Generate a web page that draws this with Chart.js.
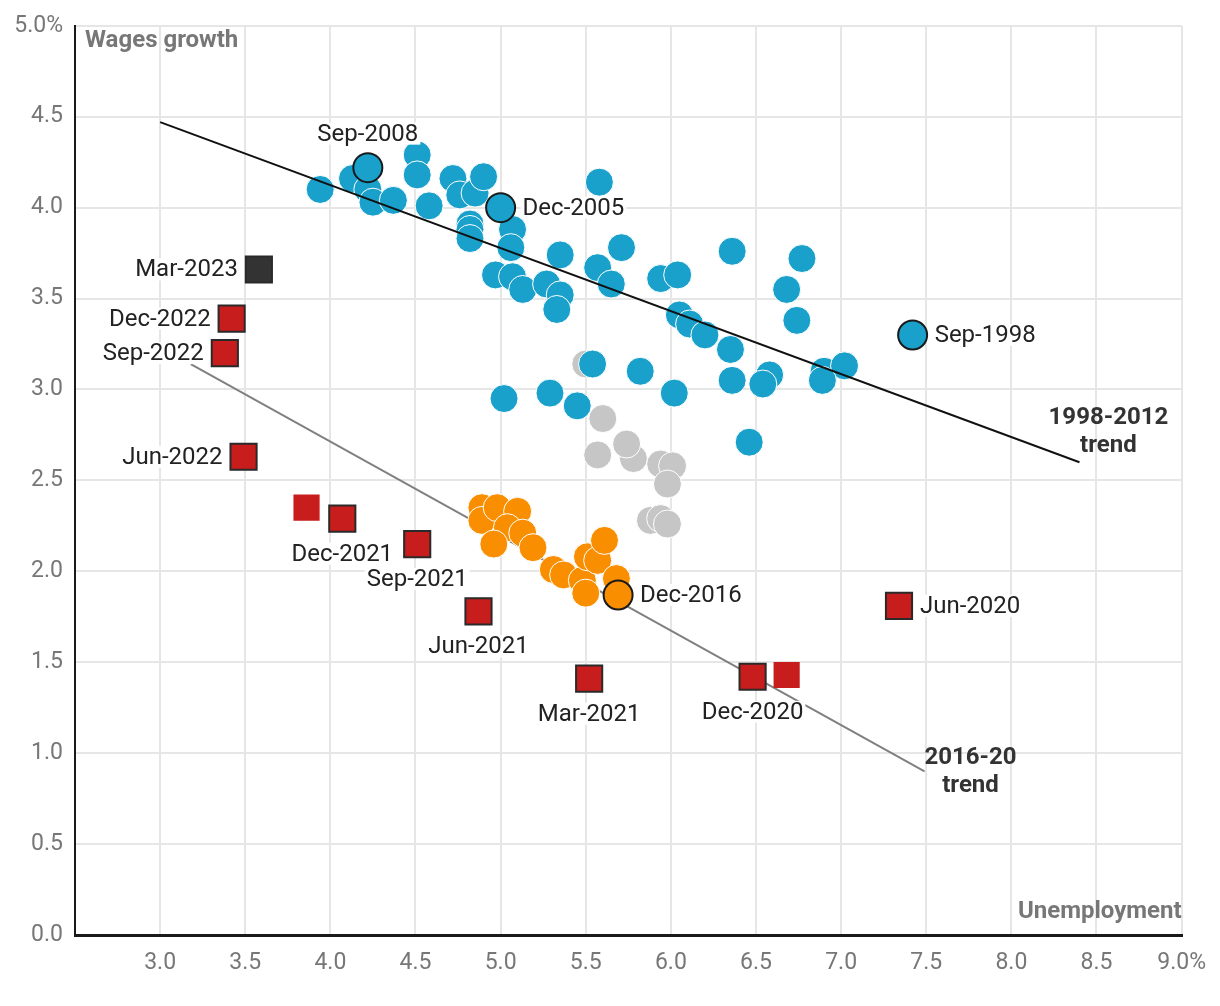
<!DOCTYPE html>
<html>
<head>
<meta charset="utf-8">
<script src="https://cdn.jsdelivr.net/npm/chart.js@4/dist/chart.umd.min.js"></script>
<style>
  html, body { margin: 0; padding: 0; background: #fff; }
  #wrap { width: 1220px; height: 1006px; }
</style>
</head>
<body>
<div id="wrap"><canvas id="chart" width="1220" height="1006"></canvas></div>
<script>
// tick values and labels
var xTickValues = [2.5, 3.0, 3.5, 4.0, 4.5, 5.0, 5.5, 6.0, 6.5, 7.0, 7.5, 8.0, 8.5, 9.0];
var xTickLabels = ['', '3.0', '3.5', '4.0', '4.5', '5.0', '5.5', '6.0', '6.5', '7.0', '7.5', '8.0', '8.5', '9.0%'];
var yTickValues = [0.0, 0.5, 1.0, 1.5, 2.0, 2.5, 3.0, 3.5, 4.0, 4.5, 5.0];
var yTickLabels = ['0.0', '0.5', '1.0', '1.5', '2.0', '2.5', '3.0', '3.5', '4.0', '4.5', '5.0%'];

// 1998-2012 quarters (unemployment, wages growth)
var blueX = [3.94, 4.13, 4.22, 4.25, 4.37, 4.51, 4.51, 4.58, 4.72, 4.76, 4.85, 4.90, 4.82, 4.82, 4.82,
             5.07, 5.06, 4.97, 5.07, 5.13, 5.27, 5.35, 5.33, 5.35, 5.57, 5.71, 5.65, 5.94, 6.04, 6.05,
             6.11, 6.20, 6.35, 6.36, 6.58, 6.54, 6.90, 7.02, 6.89, 6.46, 6.02, 5.82, 6.36, 6.77, 6.68,
             6.74, 5.58, 5.02, 5.29, 5.45, 5.54];
var blueY = [4.10, 4.16, 4.10, 4.03, 4.04, 4.29, 4.18, 4.01, 4.16, 4.07, 4.08, 4.17, 3.91, 3.88, 3.83,
             3.88, 3.78, 3.63, 3.62, 3.55, 3.58, 3.52, 3.44, 3.74, 3.67, 3.78, 3.58, 3.61, 3.63, 3.41,
             3.36, 3.30, 3.22, 3.05, 3.08, 3.03, 3.10, 3.13, 3.05, 2.71, 2.98, 3.10, 3.76, 3.72, 3.55,
             3.38, 4.14, 2.95, 2.98, 2.91, 3.14];

// 2013-2015 quarters
var grayX = [5.50, 5.60, 5.57, 5.78, 5.74, 5.94, 6.01, 5.98, 5.88, 5.94, 5.98];
var grayY = [3.14, 2.84, 2.64, 2.62, 2.70, 2.59, 2.58, 2.48, 2.28, 2.29, 2.26];

// 2016-2020 quarters
var orangeX = [4.89, 4.89, 4.98, 5.10, 5.04, 5.13, 4.96, 5.19, 5.31, 5.37, 5.48, 5.50, 5.51, 5.57, 5.61, 5.68];
var orangeY = [2.35, 2.28, 2.35, 2.33, 2.24, 2.21, 2.15, 2.13, 2.01, 1.98, 1.95, 1.88, 2.08, 2.06, 2.17, 1.96];

// labelled circles
var markLabels = ['Sep-2008', 'Dec-2005', 'Sep-1998', 'Dec-2016'];
var markX = [4.22, 5.00, 7.42, 5.69];
var markY = [4.22, 4.00, 3.30, 1.87];

// pandemic-era quarters
var redLabels = ['Jun-2020', '', 'Dec-2020', 'Mar-2021', 'Jun-2021', 'Sep-2021', 'Dec-2021', '', 'Jun-2022', 'Sep-2022', 'Dec-2022', 'Mar-2023'];
var redX = [7.34, 6.68, 6.48, 5.52, 4.87, 4.51, 4.07, 3.86, 3.49, 3.38, 3.42, 3.58];
var redY = [1.81, 1.43, 1.42, 1.41, 1.78, 2.15, 2.29, 2.35, 2.63, 3.20, 3.39, 3.66];

// trend lines
var trendOldX = [3.0, 8.40];
var trendOldY = [4.47, 2.60];
var trendNewX = [3.18, 7.49];
var trendNewY = [3.14, 0.90];

var trendLabels = [['1998-2012', 'trend'], ['2016-20', 'trend']];
var trendLabelX = [8.57, 7.76];
var trendLabelY = [2.77, 0.90];

function pts(xs, ys) {
    return xs.map(function(x, i) { return { x: x, y: ys[i] }; });
}

var BLUE = '#19a1cc';
var ORANGE = '#f98e00';
var GRAY = '#c6c6c6';
var RED = '#c71d1d';
var DARK = '#333333';
var FONT = 'Roboto, "Liberation Sans", sans-serif';

// where each label sits relative to its mark
var labelPlace = {
    'Sep-2008': 'above', 'Dec-2005': 'right', 'Sep-1998': 'right', 'Dec-2016': 'right',
    'Jun-2020': 'right', 'Dec-2020': 'below', 'Mar-2021': 'below', 'Jun-2021': 'below',
    'Sep-2021': 'below', 'Dec-2021': 'below', 'Jun-2022': 'left', 'Sep-2022': 'left',
    'Dec-2022': 'left', 'Mar-2023': 'left'
};

var labelPlugin = {
    id: 'labels',
    afterDatasetsDraw: function(chart) {
        var ctx = chart.ctx;
        var xs = chart.scales.x, ys = chart.scales.y;
        var area = chart.chartArea;

        function label(text, x, y, place, gap) {
            var px = xs.getPixelForValue(x), py = ys.getPixelForValue(y);
            ctx.font = '24px ' + FONT;
            var w = ctx.measureText(text).width;
            var h = 20;
            var cx, cy;
            if (place === 'right') { cx = px + gap + w / 2; cy = py; }
            else if (place === 'left') { cx = px - gap - w / 2; cy = py; }
            else if (place === 'above') { cx = px; cy = py - 34; }
            else { cx = px; cy = py + 35; }
            ctx.fillStyle = '#fff';
            ctx.fillRect(cx - w / 2 - 2, cy - h / 2 - 1, w + 4, h + 2);
            ctx.fillStyle = '#222';
            ctx.textAlign = 'center';
            ctx.textBaseline = 'middle';
            ctx.fillText(text, cx, cy + 1);
        }

        ctx.save();
        markLabels.forEach(function(t, i) {
            label(t, markX[i], markY[i], labelPlace[t], 22);
        });
        redLabels.forEach(function(t, i) {
            if (!t) return;
            label(t, redX[i], redY[i], labelPlace[t], 21);
        });

        // trend captions
        ctx.font = 'bold 24px ' + FONT;
        ctx.fillStyle = '#333';
        ctx.textAlign = 'center';
        ctx.textBaseline = 'middle';
        trendLabels.forEach(function(lines, i) {
            var px = xs.getPixelForValue(trendLabelX[i]);
            var py = ys.getPixelForValue(trendLabelY[i]);
            ctx.fillText(lines[0], px, py - 13);
            ctx.fillText(lines[1], px, py + 15);
        });

        // axis titles
        ctx.font = 'bold 24px ' + FONT;
        ctx.fillStyle = '#777';
        ctx.textAlign = 'left';
        ctx.fillText('Wages growth', area.left + 10, area.top + 15);
        ctx.textAlign = 'right';
        ctx.fillText('Unemployment', area.right, area.bottom - 23);
        ctx.restore();
    }
};

var circle = { pointRadius: 14, pointHoverRadius: 14, borderColor: '#fff', borderWidth: 1, showLine: false };

new Chart(document.getElementById('chart'), {
    type: 'scatter',
    data: {
        datasets: [
            {
                label: 'Labelled', data: pts(markX, markY), order: 1,
                backgroundColor: [BLUE, BLUE, BLUE, ORANGE],
                borderColor: '#1a1a1a', borderWidth: 2, pointRadius: 14.5, pointHoverRadius: 14.5
            },
            {
                label: '2020-23', data: pts(redX, redY), order: 2, pointStyle: 'rect',
                pointRadius: 18.5, pointHoverRadius: 18.5,
                backgroundColor: redLabels.map(function(t, i) { return i === redLabels.length - 1 ? DARK : RED; }),
                borderColor: '#2a2a2a',
                borderWidth: redLabels.map(function(t) { return t ? 2 : 0; })
            },
            {
                label: '1998-2012 trend', data: pts(trendOldX, trendOldY), order: 3, showLine: true,
                borderColor: '#111', borderWidth: 2, pointRadius: 0, pointHoverRadius: 0
            },
            Object.assign({ label: '2016-20', data: pts(orangeX, orangeY), order: 4, backgroundColor: ORANGE }, circle),
            Object.assign({ label: '1998-2012', data: pts(blueX, blueY), order: 5, backgroundColor: BLUE }, circle),
            Object.assign({ label: '2013-15', data: pts(grayX, grayY), order: 6, backgroundColor: GRAY }, circle),
            {
                label: '2016-20 trend', data: pts(trendNewX, trendNewY), order: 7, showLine: true,
                borderColor: '#808080', borderWidth: 2, pointRadius: 0, pointHoverRadius: 0
            }
        ]
    },
    options: {
        responsive: false,
        animation: false,
        events: [],
        layout: { padding: { top: 23, right: 37, left: 0, bottom: 0 } },
        plugins: { legend: { display: false }, tooltip: { enabled: false } },
        scales: {
            x: {
                type: 'linear', min: 2.5, max: 9.0,
                afterBuildTicks: function(axis) { axis.ticks = xTickValues.map(function(v) { return { value: v }; }); },
                afterFit: function(axis) { axis.height = 71; },
                grid: { color: '#e6e6e6', lineWidth: 2, drawTicks: false },
                border: { color: '#1a1a1a', width: 3 },
                ticks: {
                    padding: 14, color: '#777', font: { family: FONT, size: 23 },
                    maxRotation: 0, autoSkip: false,
                    callback: function(v) { var i = xTickValues.indexOf(v); return i < 0 ? '' : xTickLabels[i]; }
                }
            },
            y: {
                type: 'linear', min: 0, max: 5.0,
                afterBuildTicks: function(axis) { axis.ticks = yTickValues.map(function(v) { return { value: v }; }); },
                afterFit: function(axis) { axis.width = 75; },
                grid: { color: '#e6e6e6', lineWidth: 2, drawTicks: false },
                border: { color: '#1a1a1a', width: 2 },
                ticks: {
                    padding: 12, color: '#777', font: { family: FONT, size: 23 },
                    callback: function(v) { var i = yTickValues.indexOf(v); return i < 0 ? '' : yTickLabels[i]; }
                }
            }
        }
    },
    plugins: [labelPlugin]
});
</script>
</body>
</html>
